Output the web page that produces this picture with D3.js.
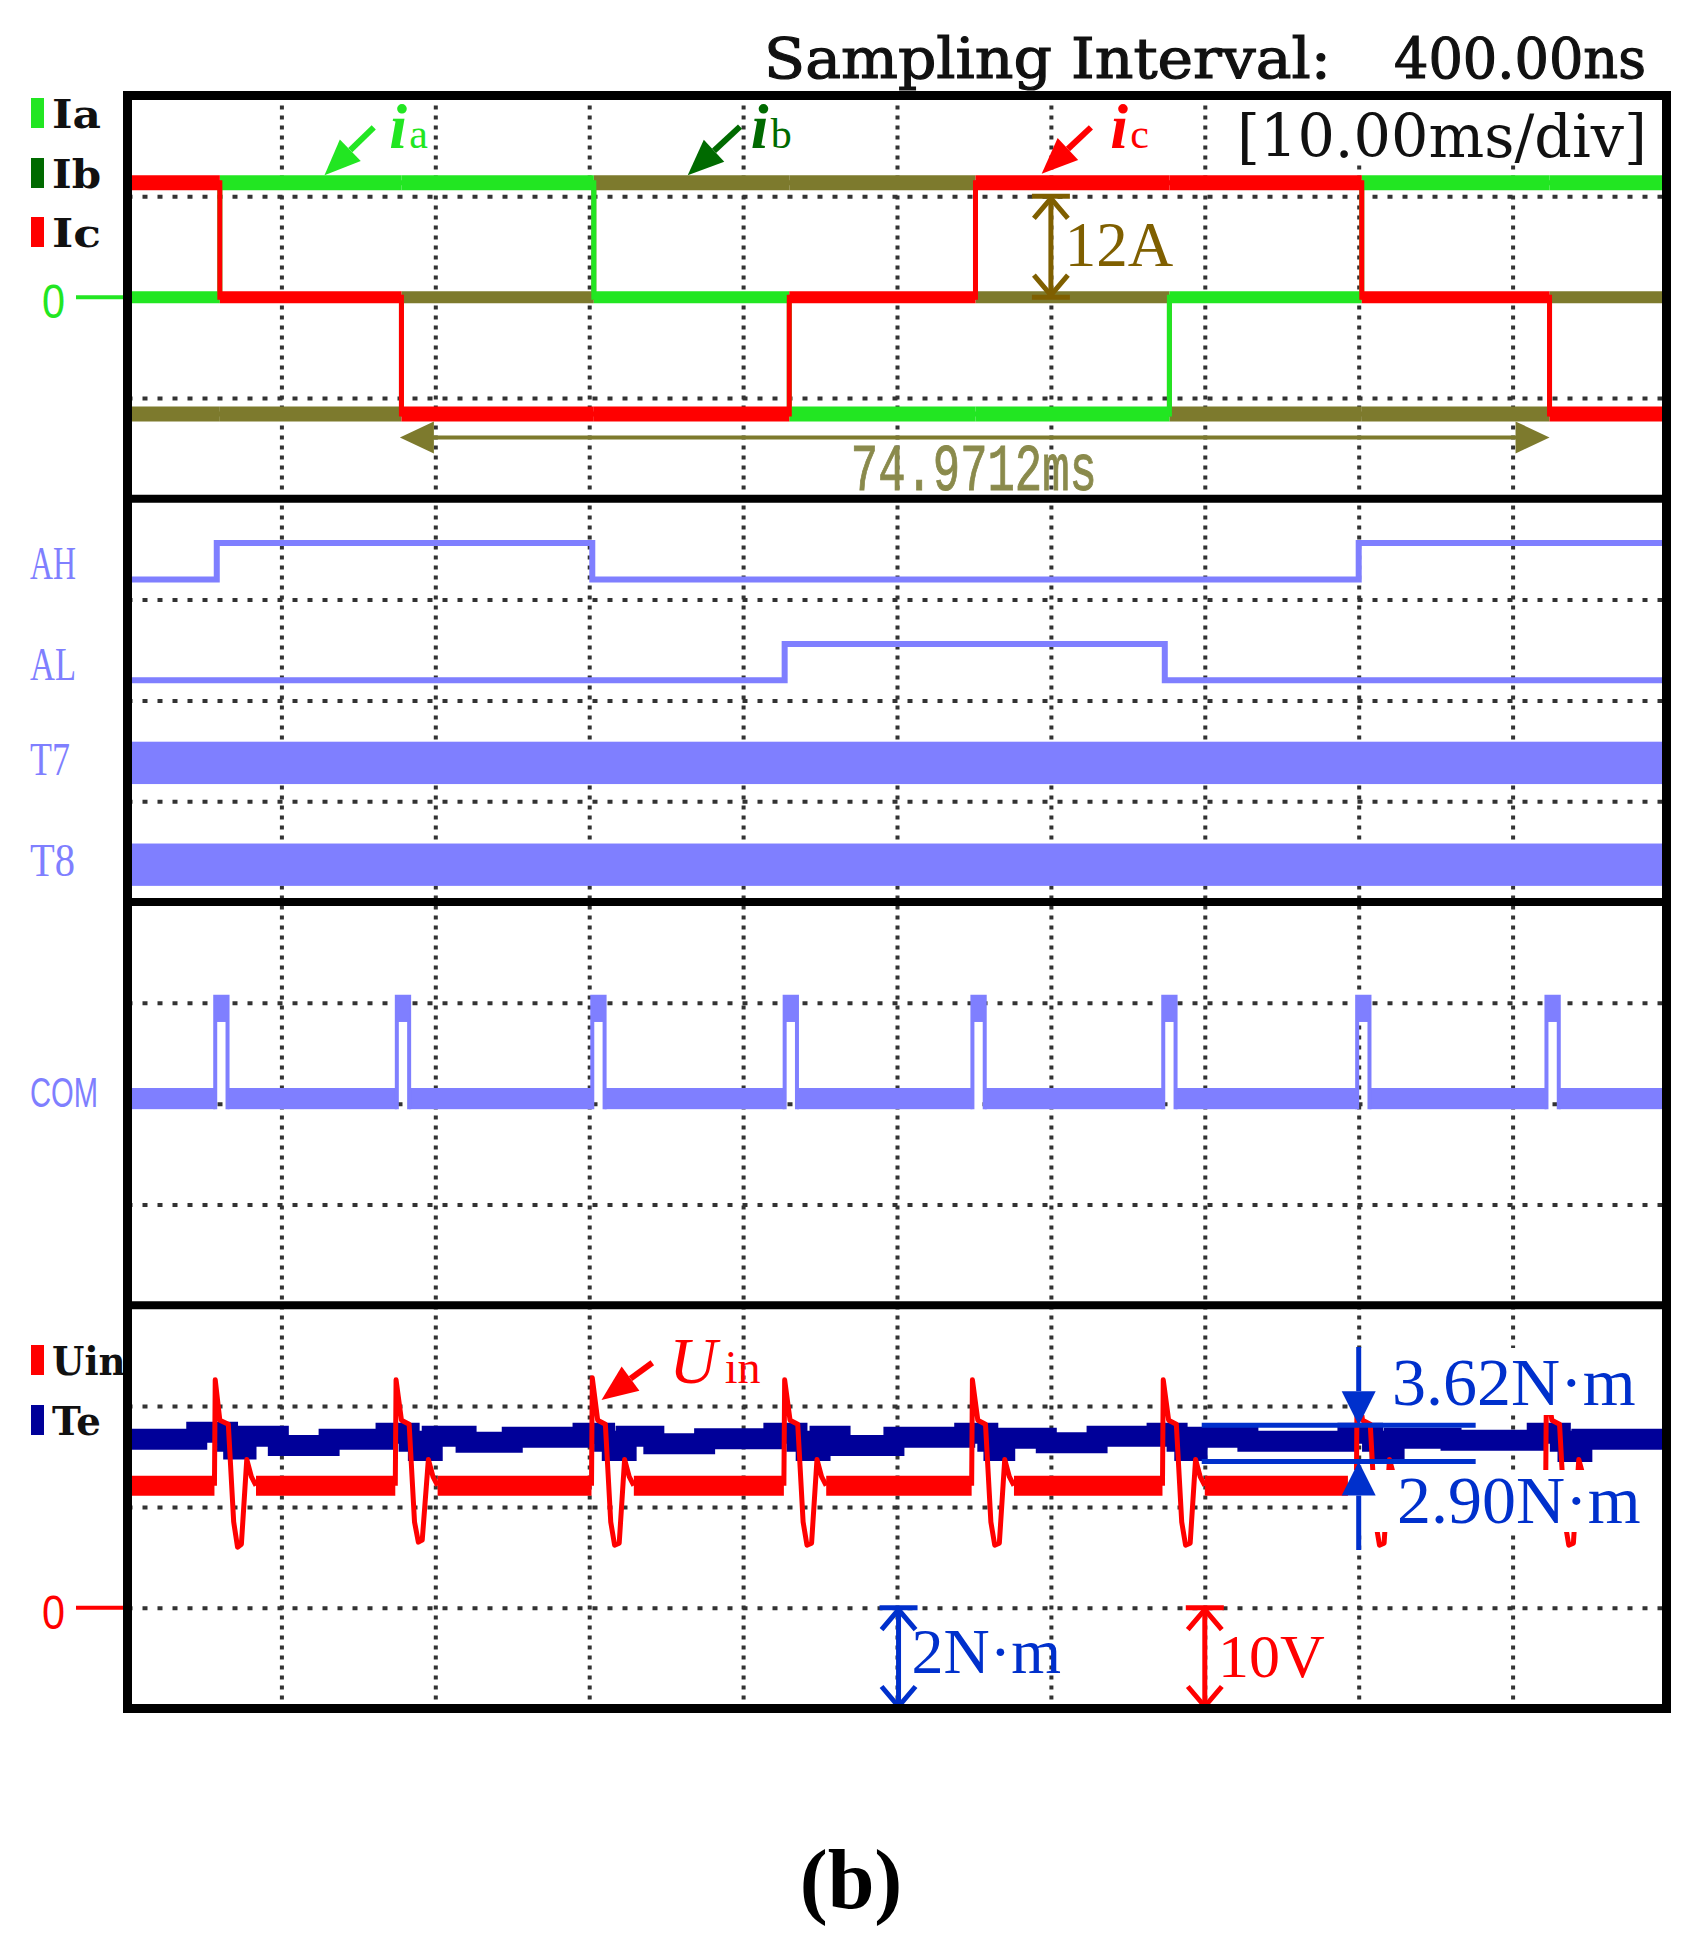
<!DOCTYPE html>
<html>
<head>
<meta charset="utf-8">
<script src="https://cdn.jsdelivr.net/npm/d3@7"></script>
<style>
html, body { margin: 0; padding: 0; background: #fff; }
svg text { white-space: pre; }
</style>
</head>
<body>
<script>
// ---- values (time in ms, 10 ms/div) ----

// phase currents: switching instants and level of each segment (A)
const phaseTimes = [0, 6.0, 17.8, 30.3, 43.0, 55.1, 67.7, 80.2, 92.4];
const iaLevels = [0, 13.6, 13.6, 0, -13.9, -13.9, 0, 13.6, 13.6];
const ibLevels = [-13.9, -13.9, 0, 13.6, 13.6, 0, -13.9, -13.9, 0];
const icLevels = [13.6, 0, -13.9, -13.9, 0, 13.6, 13.6, 0, -13.9];

// gate signals: edge instants and logic state after each edge
const ahTimes = [0, 5.8, 30.2, 80.0];
const ahStates = [0, 1, 0, 1];
const alTimes = [0, 42.7, 67.4];
const alStates = [0, 1, 0];
const pwmChannels = ["T7", "T8"];

// commutation signal pulses
const comTimes = [5.7, 17.5, 30.2, 42.7, 54.9, 67.3, 79.9, 92.2];
const comWidth = 0.8;

// electromagnetic torque Te (N·m), [ms, value] steps
const teSeries = [
  [0, 3.34], [4.5, 3.48], [6.5, 3.30], [6.9, 3.15], [7.7, 3.40], [9.8, 3.22], [13.1, 3.34],
  [16.8, 3.46], [18.3, 3.30], [18.9, 3.12], [19.8, 3.40], [22.0, 3.28], [25.0, 3.38],
  [29.6, 3.46], [31.0, 3.30], [31.5, 3.12], [32.4, 3.40], [34.2, 3.25], [37.5, 3.35],
  [42.0, 3.46], [43.5, 3.30], [44.1, 3.12], [45.0, 3.40], [46.3, 3.22], [49.8, 3.38],
  [54.4, 3.46], [55.9, 3.30], [56.3, 3.12], [57.0, 3.36], [59.7, 3.27], [63.0, 3.40],
  [66.9, 3.46], [68.2, 3.30], [68.7, 3.12], [69.5, 3.38], [72.8, 3.30],
  [79.3, 3.46], [80.9, 3.30], [81.4, 3.12], [82.3, 3.36], [86.0, 3.32],
  [91.6, 3.46], [93.1, 3.30], [93.6, 3.10], [94.5, 3.34], [100, 3.34]
];

// input voltage Uin (V): flat level and the ringing at each commutation
const uinLevel = 12.1;
const uinSpikes = [
  [[5.65, 12.1], [5.7, 22.6], [6.0, 18.6], [6.55, 18.2], [6.9, 8.5], [7.15, 6.0], [7.4, 6.3], [7.75, 14.7], [8.05, 13.0], [8.35, 12.1]],
  [[17.4, 12.1], [17.45, 22.6], [17.8, 18.6], [18.3, 18.2], [18.65, 8.5], [18.9, 6.5], [19.15, 6.7], [19.55, 14.7], [19.85, 13.0], [20.15, 12.1]],
  [[30.15, 12.1], [30.2, 22.8], [30.55, 18.6], [31.05, 18.2], [31.4, 8.5], [31.65, 6.2], [31.95, 6.4], [32.3, 14.7], [32.6, 13.0], [32.9, 12.1]],
  [[42.65, 12.1], [42.7, 22.6], [43.05, 18.6], [43.55, 18.2], [43.9, 8.5], [44.15, 6.2], [44.45, 6.4], [44.8, 14.7], [45.1, 13.0], [45.4, 12.1]],
  [[54.85, 12.1], [54.9, 22.6], [55.25, 18.6], [55.75, 18.2], [56.1, 8.5], [56.35, 6.2], [56.65, 6.4], [57.0, 14.7], [57.3, 13.0], [57.6, 12.1]],
  [[67.25, 12.1], [67.3, 22.6], [67.65, 18.6], [68.15, 18.2], [68.5, 8.5], [68.75, 6.2], [69.05, 6.4], [69.4, 14.7], [69.7, 13.0], [70.0, 12.1]],
  [[79.85, 12.1], [79.9, 22.6], [80.25, 18.6], [80.75, 18.2], [81.1, 8.5], [81.35, 6.2], [81.65, 6.4], [82.0, 14.7], [82.3, 13.0], [82.6, 12.1]],
  [[92.15, 12.1], [92.2, 22.6], [92.55, 18.6], [93.05, 18.2], [93.4, 8.5], [93.65, 6.2], [93.95, 6.4], [94.3, 14.7], [94.6, 13.0], [94.9, 12.1]]
];

const teMax = 3.62, teMin = 2.90;
const periodText = "74.9712ms";

// ---- layout ----
const W = 1698, H = 1949;
const X0 = 127.5, X1 = 1666.5, FT = 95.5, PH = 403.25;
const panelTop = i => FT + i * PH;
const MONO = "'Liberation Mono', 'DejaVu Sans Mono', monospace";
const SCOPE = "'DejaVu Serif', 'Liberation Serif', serif";
const SERIF = "'Liberation Serif', 'DejaVu Serif', serif";
const cA = "#22e622", cB = "#7d7a2d", cBkey = "#006a00", cC = "#ff0000";
const cDig = "#7f7fff", cTe = "#000099", cNote = "#0030cc", cAmp = "#7f5f00", cPer = "#8a8a4c";

const svg = d3.select("body").append("svg").attr("width", W).attr("height", H);

const x = d3.scaleLinear().domain([0, 100]).range([X0, X1]);
const yI = d3.scaleLinear().domain([-24, 24]).range([panelTop(1), panelTop(0)]);
const yD = d3.scaleLinear().domain([0, 4]).range([panelTop(2), panelTop(1)]);
const yC = d3.scaleLinear().domain([0, 4]).range([panelTop(3), panelTop(2)]);
const yT = d3.scaleLinear().domain([-2, 6]).range([panelTop(4), panelTop(3)]);
const yU = d3.scaleLinear().domain([-10, 30]).range([panelTop(4), panelTop(3)]);

// text squeezed into a fixed width, like the scope's bitmap font
function fitText(tx, ty, str, len, size, family, fill, weight) {
  return svg.append("text").attr("x", tx).attr("y", ty).attr("font-family", family)
    .attr("font-size", size).attr("font-weight", weight || "normal")
    .attr("textLength", len).attr("lengthAdjust", "spacingAndGlyphs").attr("fill", fill).text(str);
}

// dotted graticule
const gx = svg.append("g").attr("transform", `translate(0,${FT})`)
  .call(d3.axisBottom(x).tickValues(d3.range(10, 100, 10)).tickSize(4 * PH).tickFormat(""));
gx.select(".domain").remove();
gx.selectAll("line").attr("stroke", "#333").attr("stroke-width", 4).attr("stroke-dasharray", "4,6");

[yI, yD, yC, yT].forEach(s => {
  const d = s.domain(), step = (d[1] - d[0]) / 4;
  const g = svg.append("g").attr("transform", `translate(${X0},0)`)
    .call(d3.axisRight(s).tickValues([1, 2, 3].map(k => d[0] + k * step)).tickSize(X1 - X0).tickFormat(""));
  g.select(".domain").remove();
  g.selectAll("line").attr("stroke", "#333").attr("stroke-width", 4).attr("stroke-dasharray", "5,10");
});

// time base box
svg.append("rect").attr("x", 1228).attr("y", 101).attr("width", 432).attr("height", 62).attr("fill", "#fff");
fitText(1237, 157, "[10.00ms/div]", 410, 60, SCOPE, "#111");

// ---- panel 1: phase currents ----
function stepPoints(times, levels) {
  return times.map((t, i) => [t, levels[i]]).concat([[100, levels[levels.length - 1]]]);
}
const stepLine = (ys) => d3.line().x(d => x(d[0])).y(d => ys(d[1])).curve(d3.curveStepAfter);

function drawPhase(levels, color) {
  svg.append("path").attr("d", stepLine(yI)(stepPoints(phaseTimes, levels)))
    .attr("fill", "none").attr("stroke", color).attr("stroke-width", 5);
  const segs = phaseTimes.map((t, i) => [t, i + 1 < phaseTimes.length ? phaseTimes[i + 1] : 100, levels[i]]);
  svg.append("g").selectAll("line").data(segs).join("line")
    .attr("x1", d => x(d[0])).attr("x2", d => x(d[1]))
    .attr("y1", d => yI(d[2])).attr("y2", d => yI(d[2]))
    .attr("stroke", color).attr("stroke-width", d => d[2] === 0 ? 12 : 15);
}
drawPhase(ibLevels, cB);
drawPhase(iaLevels, cA);
drawPhase(icLevels, cC);

function arrow(x1, y1, x2, y2, color, w, len, half) {
  const a = Math.atan2(y2 - y1, x2 - x1);
  const bx = x2 - len * Math.cos(a), by = y2 - len * Math.sin(a);
  svg.append("line").attr("x1", x1).attr("y1", y1).attr("x2", bx).attr("y2", by)
    .attr("stroke", color).attr("stroke-width", w);
  const px = -Math.sin(a) * half, py = Math.cos(a) * half;
  svg.append("path").attr("d", `M${x2},${y2}L${bx + px},${by + py}L${bx - px},${by - py}Z`).attr("fill", color);
}

function dimArrow(xp, ya, yb, color) {
  const g = svg.append("g").attr("stroke", color).attr("stroke-width", 5).attr("fill", "none");
  g.append("line").attr("x1", xp).attr("x2", xp).attr("y1", ya).attr("y2", yb);
  g.append("line").attr("x1", xp - 19).attr("x2", xp + 19).attr("y1", ya).attr("y2", ya);
  g.append("line").attr("x1", xp - 19).attr("x2", xp + 19).attr("y1", yb).attr("y2", yb);
  g.append("path").attr("d", `M${xp - 17},${ya + 22}L${xp},${ya + 2}L${xp + 17},${ya + 22}`);
  g.append("path").attr("d", `M${xp - 17},${yb - 22}L${xp},${yb - 2}L${xp + 17},${yb - 22}`);
}

function phaseLabel(sub, color, xs, yb) {
  svg.append("text").attr("x", xs).attr("y", yb).attr("font-family", SERIF).attr("font-style", "italic")
    .attr("font-weight", "bold").attr("font-size", 64).attr("fill", color).text("i");
  svg.append("text").attr("x", xs + 20).attr("y", yb).attr("font-family", SERIF)
    .attr("font-size", 42).attr("fill", color).text(sub);
}

arrow(x(16.0), yI(20.2), x(12.8), yI(14.5), cA, 6, 36, 15);
phaseLabel("a", cA, x(17.0), yI(17.8));
arrow(x(39.8), yI(20.3), x(36.4), yI(14.5), cBkey, 6, 36, 15);
phaseLabel("b", cBkey, x(40.5), yI(17.8));
arrow(x(62.6), yI(20.2), x(59.4), yI(14.7), cC, 6, 36, 15);
phaseLabel("c", cC, x(63.85), yI(17.8));

dimArrow(x(60), yI(12), yI(0), cAmp);
svg.append("text").attr("x", x(60.9)).attr("y", yI(3.7)).attr("font-family", SERIF)
  .attr("font-size", 63).attr("fill", cAmp).text("12A");

// period measurement
const yPer = yI(-16.7);
svg.append("line").attr("x1", x(17.8) + 30).attr("x2", x(92.4) - 30).attr("y1", yPer).attr("y2", yPer)
  .attr("stroke", cB).attr("stroke-width", 4);
svg.append("path").attr("d", `M${x(17.7)},${yPer}l34,-16l0,32z`).attr("fill", cB);
svg.append("path").attr("d", `M${x(92.4)},${yPer}l-34,-16l0,32z`).attr("fill", cB);
fitText(x(47.0), 490, periodText, 246, 66, MONO, cPer).attr("stroke", cPer).attr("stroke-width", 1);

// ---- panel 2: gate signals ----
const chBase = { AH: 3.20, AL: 2.20, T7: 1.17, T8: 0.16 };
const logicHigh = 0.36, pwmHeight = 0.42;
[["AH", ahTimes, ahStates], ["AL", alTimes, alStates]].forEach(([name, ts, st]) => {
  const pts = stepPoints(ts, st).map(d => [d[0], chBase[name] + d[1] * logicHigh]);
  svg.append("path").attr("d", stepLine(yD)(pts)).attr("fill", "none")
    .attr("stroke", cDig).attr("stroke-width", 6);
});
svg.append("g").selectAll("rect").data(pwmChannels).join("rect")
  .attr("x", x(0)).attr("width", x(100) - x(0))
  .attr("y", d => yD(chBase[d] + pwmHeight)).attr("height", d => yD(chBase[d]) - yD(chBase[d] + pwmHeight))
  .attr("fill", cDig);

// ---- panel 3: COM ----
const comBase = 2.155, comHigh = 3.06, comBand = 0.21;
const comGaps = [0].concat(comTimes.map(t => t + comWidth));
const comEnds = comTimes.concat([100]);
svg.append("g").selectAll("rect").data(comGaps).join("rect")
  .attr("x", d => x(d)).attr("width", (d, i) => x(comEnds[i]) - x(d))
  .attr("y", yC(comBase)).attr("height", yC(comBase - comBand) - yC(comBase))
  .attr("fill", cDig);
svg.append("g").selectAll("path").data(comTimes).join("path")
  .attr("d", t => `M${x(t)},${yC(comBase - comBand)}V${yC(comHigh)}H${x(t + comWidth)}V${yC(comBase - comBand)}`)
  .attr("fill", "none").attr("stroke", cDig).attr("stroke-width", 4);
svg.append("g").selectAll("rect").data(comTimes).join("rect")
  .attr("x", t => x(t)).attr("width", x(comWidth) - x(0))
  .attr("y", yC(comHigh)).attr("height", yC(comHigh - 0.25) - yC(comHigh)).attr("fill", cDig);

// ---- panel 4: Te and Uin ----
svg.append("path").attr("d", stepLine(yT)(teSeries)).attr("fill", "none")
  .attr("stroke", cTe).attr("stroke-width", 21);

const uinFlat = [0].concat(uinSpikes.map(s => s[s.length - 1][0]));
const uinFlatEnd = uinSpikes.map(s => s[0][0]).concat([100]);
svg.append("g").selectAll("line").data(uinFlat).join("line")
  .attr("x1", d => x(d)).attr("x2", (d, i) => x(uinFlatEnd[i]))
  .attr("y1", yU(uinLevel)).attr("y2", yU(uinLevel))
  .attr("stroke", cC).attr("stroke-width", 20);
const uinLine = d3.line().x(d => x(d[0])).y(d => yU(d[1]));
svg.append("g").selectAll("path").data(uinSpikes).join("path")
  .attr("d", uinLine).attr("fill", "none").attr("stroke", cC).attr("stroke-width", 5)
  .attr("stroke-linejoin", "round");

// measurement of torque ripple
svg.append("rect").attr("x", x(79.3)).attr("y", 1348).attr("width", X1 - x(79.3)).attr("height", 67).attr("fill", "#fff");
svg.append("rect").attr("x", x(79.3)).attr("y", 1470).attr("width", X1 - x(79.3)).attr("height", 62).attr("fill", "#fff");
[teMax, teMin].forEach(v => {
  svg.append("line").attr("x1", x(69.8)).attr("x2", x(87.6)).attr("y1", yT(v)).attr("y2", yT(v))
    .attr("stroke", cNote).attr("stroke-width", 5);
});
arrow(x(80), 1347, x(80), yT(teMax), cNote, 5, 34, 17);
arrow(x(80), 1550, x(80), yT(teMin), cNote, 5, 34, 17);
svg.append("text").attr("x", 1392).attr("y", 1405).attr("font-family", SERIF).attr("font-size", 68)
  .attr("fill", cNote).text(teMax.toFixed(2) + "N\u00B7m");
svg.append("text").attr("x", 1397).attr("y", 1523).attr("font-family", SERIF).attr("font-size", 68)
  .attr("fill", cNote).text(teMin.toFixed(2) + "N\u00B7m");

// scale markers
dimArrow(x(50.1), yT(0), yT(-2), cNote);
svg.append("text").attr("x", x(50.95)).attr("y", 1673).attr("font-family", SERIF).attr("font-size", 64)
  .attr("fill", cNote).text("2N\u00B7m");
dimArrow(x(70), yU(0), yU(-10), cC);
svg.append("text").attr("x", x(70.85)).attr("y", 1677).attr("font-family", SERIF).attr("font-size", 62)
  .attr("fill", cC).text("10V");

// Uin label
arrow(x(34.1), yU(24.3), x(30.8), yU(20.6), cC, 6, 36, 15);
svg.append("text").attr("x", x(35.2)).attr("y", 1383).attr("font-family", SERIF).attr("font-style", "italic")
  .attr("font-size", 66).attr("fill", cC).text("U");
svg.append("text").attr("x", x(38.8)).attr("y", 1383).attr("font-family", SERIF)
  .attr("font-size", 46).attr("fill", cC).text("in");

// ---- left-hand channel keys ----
const keys = [
  { name: "Ia", color: cA, y: 128 }, { name: "Ib", color: cBkey, y: 188 }, { name: "Ic", color: cC, y: 247 },
  { name: "Uin", color: cC, y: 1375 }, { name: "Te", color: cTe, y: 1435 }
];
keys.forEach(k => {
  svg.append("rect").attr("x", 31).attr("y", k.y - 30).attr("width", 13).attr("height", 30).attr("fill", k.color);
  fitText(52, k.y, k.name, 24.5 * k.name.length, 40, SCOPE, "#111", "bold");
});
const digLabels = [
  { name: "AH", y: 579, w: 46 }, { name: "AL", y: 680, w: 46 },
  { name: "T7", y: 775, w: 40 }, { name: "T8", y: 876, w: 45 }
];
digLabels.forEach(l => fitText(30, l.y, l.name, l.w, 46, SERIF, cDig));
fitText(30, 1107, "COM", 68, 42, "'Liberation Sans', sans-serif", cDig);

// zero markers
[[yI(0), cA], [yU(0), cC]].forEach(([yz, c]) => {
  fitText(42, yz + 21, "0", 23, 48, "'Liberation Sans', sans-serif", c);
  svg.append("line").attr("x1", 76).attr("x2", 124).attr("y1", yz).attr("y2", yz)
    .attr("stroke", c).attr("stroke-width", 4);
});

// ---- frame ----
svg.append("rect").attr("x", X0).attr("y", FT).attr("width", X1 - X0).attr("height", 4 * PH)
  .attr("fill", "none").attr("stroke", "#000").attr("stroke-width", 9);
[1, 2, 3].forEach(i => {
  svg.append("line").attr("x1", X0).attr("x2", X1).attr("y1", panelTop(i)).attr("y2", panelTop(i))
    .attr("stroke", "#000").attr("stroke-width", 8);
});

// header and caption (scope font is fixed pitch: 31.5 px per character)
fitText(764, 78, "Sampling Interval:", 18 * 31.5, 56, SCOPE, "#111").attr("stroke", "#111").attr("stroke-width", 1.2);
fitText(764 + 20 * 31.5, 78, "400.00ns", 8 * 31.5, 56, SCOPE, "#111").attr("stroke", "#111").attr("stroke-width", 1.2);
svg.append("text").attr("x", 851).attr("y", 1908).attr("text-anchor", "middle").attr("font-family", SERIF)
  .attr("font-weight", "bold").attr("font-size", 84).attr("fill", "#000").text("(b)");
</script>
</body>
</html>
